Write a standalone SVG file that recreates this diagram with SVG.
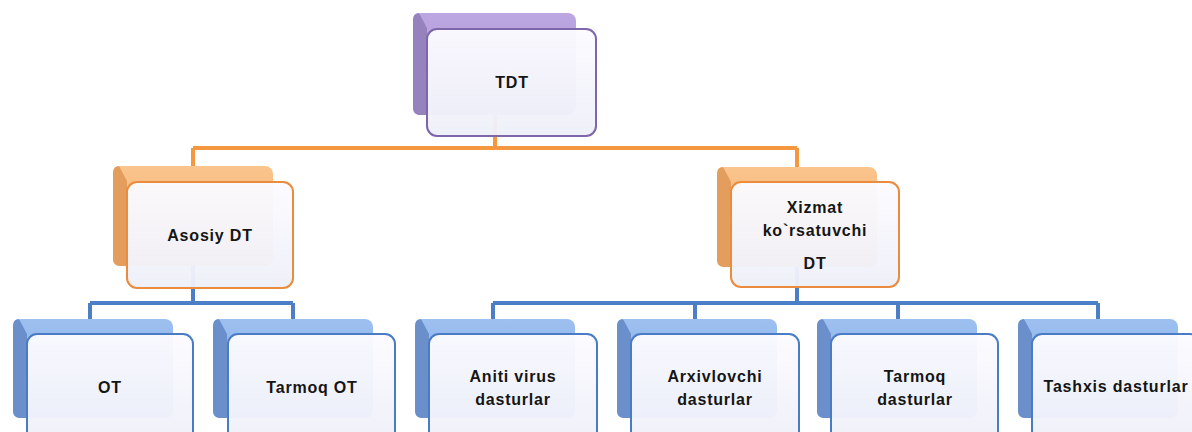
<svg xmlns="http://www.w3.org/2000/svg" width="1192" height="432" viewBox="0 0 1192 432">
<defs>
<linearGradient id="gFront" x1="0" y1="0" x2="0" y2="1">
<stop offset="0" stop-color="#fcfbff"/>
<stop offset="1" stop-color="#eef0f9"/>
</linearGradient>
<linearGradient id="gP" x1="0" y1="0" x2="0" y2="1"><stop offset="0" stop-color="#bca7e2"/><stop offset="1" stop-color="#a892d2"/></linearGradient>
<linearGradient id="gO" x1="0" y1="0" x2="0" y2="1"><stop offset="0" stop-color="#fac48c"/><stop offset="1" stop-color="#f3ad6c"/></linearGradient>
<linearGradient id="gB" x1="0" y1="0" x2="0" y2="1"><stop offset="0" stop-color="#9dc0f0"/><stop offset="1" stop-color="#7ea6e2"/></linearGradient>
</defs>
<style>
.front{fill:url(#gFront);fill-opacity:0.96;stroke-width:2}
.p .back{fill:url(#gP)} .p .bev{fill:#9683bd} .p .front{stroke:#7d66aa}
.o .back{fill:url(#gO)} .o .bev{fill:#e39d5c} .o .front{stroke:#eb8b3e}
.b .back{fill:url(#gB)} .b .bev{fill:#6a8fcb} .b .front{stroke:#4a7cc6}
.t{font-family:"Liberation Sans",Arial,sans-serif;font-size:16px;font-weight:bold;fill:#151515;text-anchor:middle;letter-spacing:0.8px}
.co{fill:none;stroke:#f5973f;stroke-width:4}
.cb{fill:none;stroke:#4d7fc8;stroke-width:4}
</style>
<g id="connectors">
<path class="co" d="M495 70 V148 M193 148 H797 M193 148 V170 M797 148 V170"/>
<path class="cb" d="M193 240 V303 M90 303 H293 M90 303 V322 M293 303 V322"/>
<path class="cb" d="M797 240 V303 M493 303 H1098 M493 303 V322 M695 303 V322 M898 303 V322 M1098 303 V322"/>
</g>
<g id="node-tdt" class="p" transform="translate(413,13)">
<rect class="back" x="0" y="0" width="163" height="102" rx="8"/>
<path class="bev" d="M0 7 Q0 0 6 0 L14 15 L14 102 L7 102 Q0 102 0 95 Z"/>
<rect class="front" x="14" y="16" width="169" height="107" rx="10"/>
<text class="t" x="99" y="75">TDT</text>
</g>
<g id="node-asosiy" class="o" transform="translate(113,166)">
<rect class="back" x="0" y="0" width="160" height="100" rx="8"/>
<path class="bev" d="M0 7 Q0 0 6 0 L14 15 L14 100 L7 100 Q0 100 0 93 Z"/>
<rect class="front" x="14" y="16" width="166" height="106" rx="10"/>
<text class="t" x="97" y="75">Asosiy DT</text>
</g>
<g id="node-xizmat" class="o" transform="translate(717,167)">
<rect class="back" x="0" y="0" width="160" height="100" rx="8"/>
<path class="bev" d="M0 7 Q0 0 6 0 L14 15 L14 100 L7 100 Q0 100 0 93 Z"/>
<rect class="front" x="14" y="15" width="168" height="105" rx="10"/>
<text class="t" x="98" y="46">Xizmat</text>
<text class="t" x="98" y="69">ko`rsatuvchi</text>
<text class="t" x="98" y="102">DT</text>
</g>
<g id="node-ot" class="b" transform="translate(13,319)">
<rect class="back" x="0" y="0" width="160" height="99" rx="8"/>
<path class="bev" d="M0 7 Q0 0 6 0 L14 15 L14 99 L7 99 Q0 99 0 92 Z"/>
<rect class="front" x="14" y="15" width="166" height="107" rx="10"/>
<text class="t" x="97" y="74">OT</text>
</g>
<g id="node-tarmoq-ot" class="b" transform="translate(213,319)">
<rect class="back" x="0" y="0" width="160" height="99" rx="8"/>
<path class="bev" d="M0 7 Q0 0 6 0 L14 15 L14 99 L7 99 Q0 99 0 92 Z"/>
<rect class="front" x="15" y="15" width="167" height="107" rx="10"/>
<text class="t" x="99" y="74">Tarmoq OT</text>
</g>
<g id="node-antivirus" class="b" transform="translate(415,319)">
<rect class="back" x="0" y="0" width="160" height="99" rx="8"/>
<path class="bev" d="M0 7 Q0 0 6 0 L14 15 L14 99 L7 99 Q0 99 0 92 Z"/>
<rect class="front" x="14" y="15" width="168" height="107" rx="10"/>
<text class="t" x="98" y="63">Aniti virus</text>
<text class="t" x="98" y="86">dasturlar</text>
</g>
<g id="node-arxiv" class="b" transform="translate(617,319)">
<rect class="back" x="0" y="0" width="160" height="99" rx="8"/>
<path class="bev" d="M0 7 Q0 0 6 0 L14 15 L14 99 L7 99 Q0 99 0 92 Z"/>
<rect class="front" x="14" y="15" width="168" height="107" rx="10"/>
<text class="t" x="98" y="63">Arxivlovchi</text>
<text class="t" x="98" y="86">dasturlar</text>
</g>
<g id="node-tarmoq-d" class="b" transform="translate(817,319)">
<rect class="back" x="0" y="0" width="160" height="99" rx="8"/>
<path class="bev" d="M0 7 Q0 0 6 0 L14 15 L14 99 L7 99 Q0 99 0 92 Z"/>
<rect class="front" x="14" y="15" width="167" height="107" rx="10"/>
<text class="t" x="98" y="63">Tarmoq</text>
<text class="t" x="98" y="86">dasturlar</text>
</g>
<g id="node-tashxis" class="b" transform="translate(1018,319)">
<rect class="back" x="0" y="0" width="160" height="99" rx="8"/>
<path class="bev" d="M0 7 Q0 0 6 0 L14 15 L14 99 L7 99 Q0 99 0 92 Z"/>
<rect class="front" x="14" y="15" width="168" height="107" rx="10"/>
<text class="t" x="98" y="73">Tashxis dasturlar</text>
</g>
</svg>
